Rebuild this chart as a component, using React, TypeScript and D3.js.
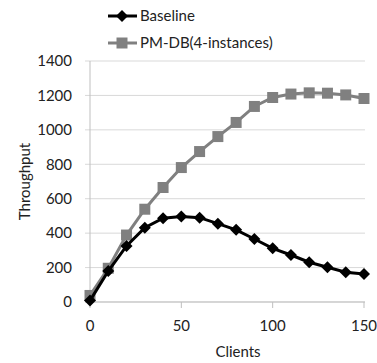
import React from 'react';
import { scaleLinear, line, symbol, symbolSquare } from 'd3';

const clients = [0, 10, 20, 30, 40, 50, 60, 70, 80, 90, 100, 110, 120, 130, 140, 150];
const baseline = [8, 180, 326, 432, 487, 496, 490, 455, 419, 366, 312, 273, 231, 202, 173, 163];
const pmdb = [38, 196, 389, 539, 665, 781, 874, 961, 1043, 1136, 1188, 1208, 1215, 1213, 1203, 1182];
const yTicks = [0, 200, 400, 600, 800, 1000, 1200, 1400];
const xTicks = [0, 50, 100, 150];

const FONT = 'Lato, "Open Sans", sans-serif';

const App = () => {
    const x = scaleLinear().domain([0, 150]).range([90, 364]);
    const y = scaleLinear().domain([0, 1400]).range([302, 61]);

    const mkLine = line<number>()
        .x((d, i) => x(clients[i]))
        .y(d => y(d));

    // square-ish diamond like the spreadsheet marker
    const diamond = 'M0,-6L6,0L0,6L-6,0Z';
    const square = symbol().type(symbolSquare).size(121)() as string;

    const series = [
        { name: 'Baseline', values: baseline, color: '#000000', marker: diamond },
        { name: 'PM-DB(4-instances)', values: pmdb, color: '#808080', marker: square },
    ];

    return (
        <svg width={377} height={363} style={{ position: 'absolute', left: 0, top: 0, background: '#fff' }}>
            {yTicks.map(t => (
                <g key={t}>
                    <line x1={85} x2={365} y1={y(t)} y2={y(t)} stroke="#d9d9d9" strokeWidth={1} />
                    <text x={72} y={y(t)} dy="0.35em" textAnchor="end" fontFamily={FONT} fontSize={15} fill="#222">{t}</text>
                </g>
            ))}
            <line x1={90} x2={90} y1={y(1400)} y2={y(0)} stroke="#bfbfbf" />
            <line x1={85} x2={365} y1={y(0)} y2={y(0)} stroke="#bfbfbf" />
            {xTicks.map(t => (
                <g key={t}>
                    <line x1={x(t)} x2={x(t)} y1={y(0)} y2={y(0) + 6} stroke="#bfbfbf" />
                    <text x={x(t)} y={331} textAnchor="middle" fontFamily={FONT} fontSize={15} fill="#222">{t}</text>
                </g>
            ))}
            <text x={238} y={357} textAnchor="middle" fontFamily={FONT} fontSize={15} fill="#222">Clients</text>
            <text transform={`translate(30,${(y(0) + y(1400)) / 2}) rotate(-90)`} textAnchor="middle" fontFamily={FONT} fontSize={15} fill="#222">Throughput</text>

            {[...series].reverse().map(s => (
                <g key={s.name}>
                    <path d={mkLine(s.values) || ''} fill="none" stroke={s.color} strokeWidth={3} />
                    {s.values.map((v, i) => (
                        <path key={i} d={s.marker} transform={`translate(${x(clients[i])},${y(v)})`} fill={s.color} />
                    ))}
                </g>
            ))}

            {series.map((s, i) => {
                const ly = 16 + i * 27;
                return (
                    <g key={s.name}>
                        <line x1={108} x2={137} y1={ly} y2={ly} stroke={s.color} strokeWidth={3} />
                        <path d={s.marker} transform={`translate(122,${ly})`} fill={s.color} />
                        <text x={140} y={ly} dy="0.35em" fontFamily={FONT} fontSize={15} fill="#222">{s.name}</text>
                    </g>
                );
            })}
        </svg>
    );
};

export default App;
